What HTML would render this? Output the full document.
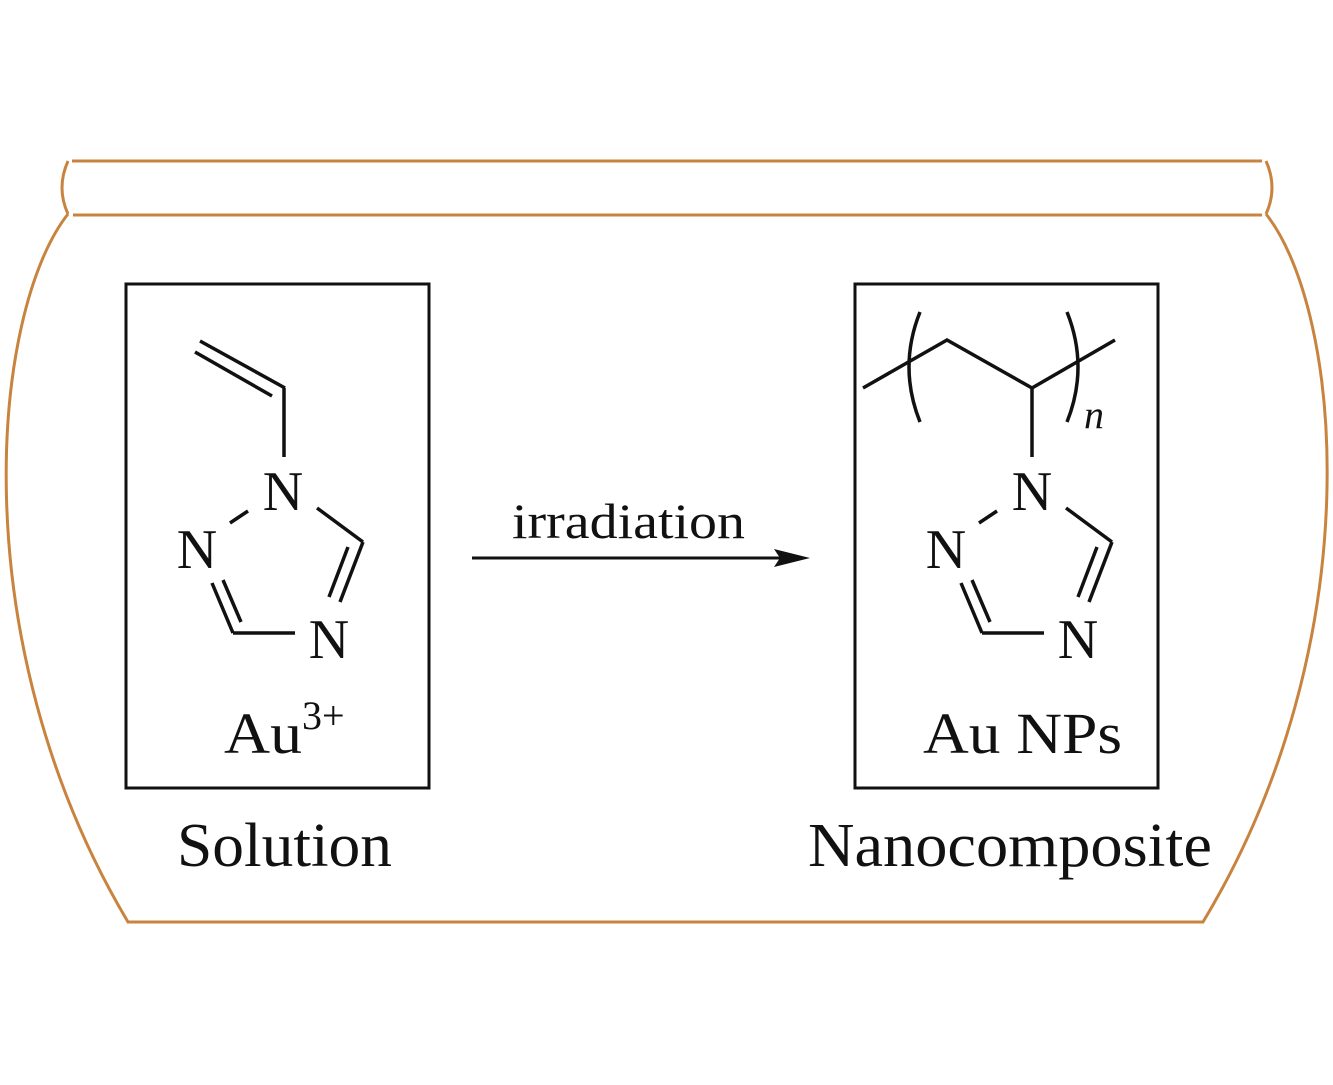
<!DOCTYPE html>
<html><head><meta charset="utf-8"><style>
html,body{margin:0;padding:0;background:#fff}
svg{display:block}
text{font-family:"Liberation Serif",serif;fill:#111}
</style></head><body>
<svg width="1333" height="1085" viewBox="0 0 1333 1085" xmlns="http://www.w3.org/2000/svg">
<g fill="none" stroke="#c8843f" stroke-width="3">
<line x1="72" y1="161" x2="1262" y2="161"/>
<line x1="73" y1="215" x2="1262" y2="215"/>
<path d="M68,161 Q56,188 68,214"/>
<path d="M1266,161 Q1278,188 1266,214"/>
<path d="M68,214 C-8,310 -40,640 128,922 L1203,922 C1373,640 1342,310 1266,214"/>
</g>
<g fill="none" stroke="#111" stroke-width="3">
<rect x="126" y="284" width="303" height="504"/>
<rect x="855" y="284" width="303" height="504"/>
</g>
<g fill="none" stroke="#111" stroke-width="3.5" stroke-linecap="butt">
<line x1="200" y1="341" x2="285" y2="388"/>
<line x1="195" y1="352" x2="272" y2="396"/>
<line x1="284" y1="388" x2="284" y2="457"/>
<line x1="230" y1="523" x2="248" y2="511"/>
<line x1="317" y1="508" x2="363" y2="542"/>
<line x1="363" y1="542" x2="340" y2="602"/>
<line x1="348" y1="547" x2="329" y2="597"/>
<line x1="212" y1="583" x2="233" y2="633"/>
<line x1="223" y1="580" x2="241" y2="622"/>
<line x1="233" y1="633" x2="295" y2="633"/>
</g>
<g transform="translate(749,0)" fill="none" stroke="#111" stroke-width="3.5">
<line x1="230" y1="523" x2="248" y2="511"/>
<line x1="317" y1="508" x2="363" y2="542"/>
<line x1="363" y1="542" x2="340" y2="602"/>
<line x1="348" y1="547" x2="329" y2="597"/>
<line x1="212" y1="583" x2="233" y2="633"/>
<line x1="223" y1="580" x2="241" y2="622"/>
<line x1="233" y1="633" x2="295" y2="633"/>
</g>
<g fill="none" stroke="#111" stroke-width="3.5">
<polyline points="863,388 947,340 1032,388 1115,340"/>
<line x1="1032" y1="388" x2="1032" y2="457"/>
<path d="M920,312 Q898,367 920,422"/>
<path d="M1067,312 Q1089,367 1067,422"/>
</g>
<g font-size="56">
<text x="283" y="510" text-anchor="middle">N</text>
<text x="197" y="568" text-anchor="middle">N</text>
<text x="329" y="658" text-anchor="middle">N</text>
<text x="1032" y="510" text-anchor="middle">N</text>
<text x="946" y="568" text-anchor="middle">N</text>
<text x="1078" y="658" text-anchor="middle">N</text>
</g>
<text x="1084" y="428" font-size="40" font-style="italic">n</text>
<text x="224" y="753" font-size="58" textLength="78" lengthAdjust="spacingAndGlyphs">Au</text>
<text x="302" y="729" font-size="40">3+</text>
<text x="923" y="753" font-size="58" textLength="199" lengthAdjust="spacingAndGlyphs">Au NPs</text>
<text x="512" y="538" font-size="50" textLength="233" lengthAdjust="spacingAndGlyphs">irradiation</text>
<line x1="472" y1="558" x2="790" y2="558" stroke="#111" stroke-width="3"/>
<polygon points="810,558 774,549 780,558 774,567" fill="#111"/>
<text x="177" y="866" font-size="62" textLength="215" lengthAdjust="spacingAndGlyphs">Solution</text>
<text x="808" y="866" font-size="62" textLength="404" lengthAdjust="spacingAndGlyphs">Nanocomposite</text>
</svg>
</body></html>
